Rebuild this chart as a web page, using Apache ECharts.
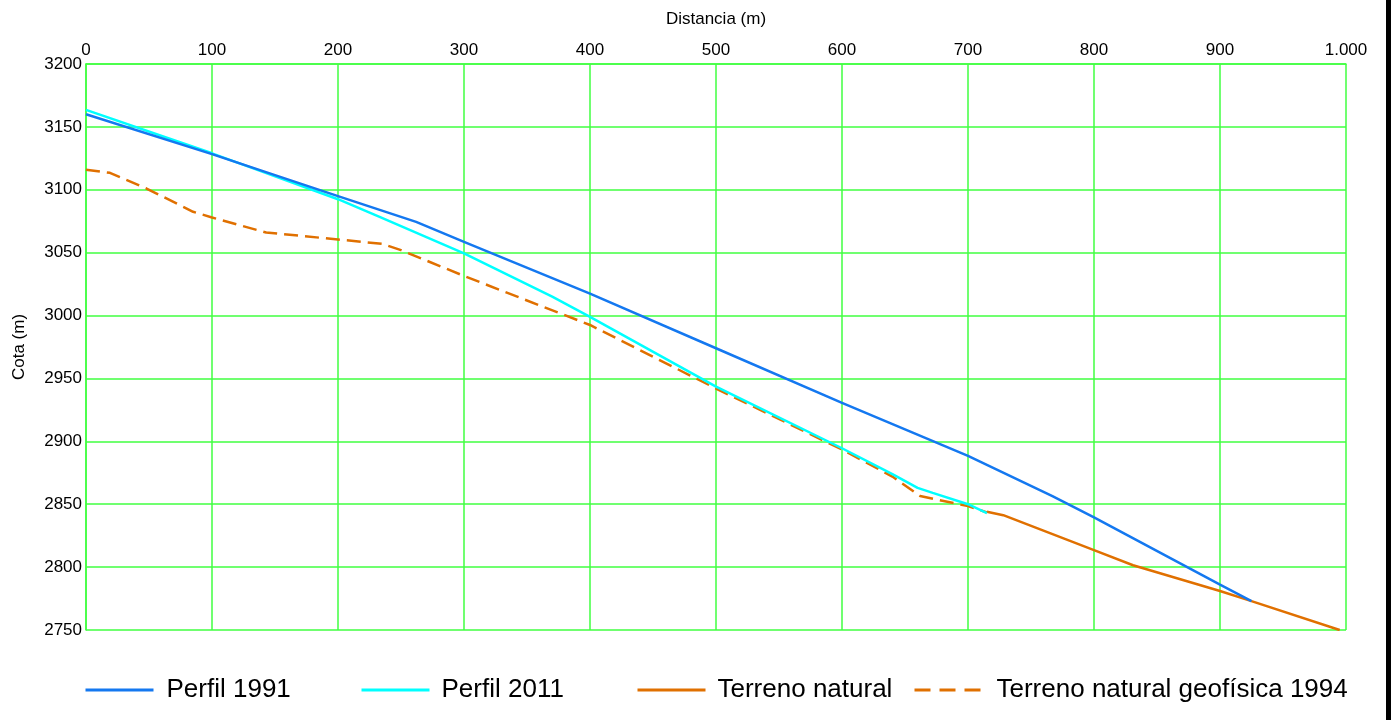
<!DOCTYPE html>
<html>
<head>
<meta charset="utf-8">
<script src="https://cdn.jsdelivr.net/npm/echarts@6/dist/echarts.min.js"></script>
<style>html,body{margin:0;padding:0;background:#fff;}#c{width:1391px;height:720px;}</style>
</head>
<body>
<div id="c"></div>
<script>
// Data: [distance (m), elevation (m)]
const perfil1991 = [[0,3160],[100,3128.3],[200,3095],[262,3074.5],[300,3058.6],[400,3017.5],[500,2974],[600,2930.5],[700,2888.5],[767,2856.5],[800,2839.5],[900,2786],[925,2773]];
const perfil2011 = [[0,3163.5],[100,3129],[130,3118],[200,3092.5],[233,3078.5],[300,3049.5],[370,3015],[400,2999],[500,2943.5],[600,2894.5],[640,2874],[660,2863],[672,2859],[700,2850],[715,2843]];
const terrenoNatural = [[715,2844],[728,2841.3],[800,2813.5],[831,2801.5],[900,2781],[925,2773],[995,2750]];
const terrenoGeofisica = [[0,3116],[19,3113.5],[48,3101],[85,3082.5],[100,3078],[143,3066],[200,3060.5],[235,3057],[250,3052],[300,3031.5],[400,2992.5],[500,2942],[600,2893.5],[640,2872],[662,2856.5],[700,2848.5],[715,2843.5]];
const seriesNames = ['Perfil 1991','Perfil 2011','Terreno natural','Terreno natural geofísica 1994'];

const FONT = 'Liberation Sans, Arial, sans-serif';
const GREEN = '#40ff40';
const BLUE = '#1478f0';
const CYAN = '#00ffff';
const ORANGE = '#e07000';

const chart = echarts.init(document.getElementById('c'));
function legendAt(name, left, pad, dash){
  return {
    data:[name], left:left, top:677, padding:0, orient:'horizontal',
    itemWidth:68, itemHeight:26,
    itemStyle:{opacity:0},
    lineStyle:{width:3, type: dash || 'solid'},
    textStyle:{fontFamily:FONT, fontSize:26, color:'#000', padding:[0,0,0,pad]}
  };
}
chart.setOption({
  animation:false,
  backgroundColor:'#fff',
  grid:{left:86, right:45, top:64, bottom:90, containLabel:false},
  xAxis:{
    type:'value', position:'top', min:0, max:1000, interval:100,
    name:'Distancia (m)', nameLocation:'middle', nameGap:36,
    nameTextStyle:{fontFamily:FONT, fontSize:17, color:'#000'},
    axisLine:{show:true, lineStyle:{color:GREEN, width:1.5}},
    axisTick:{show:false},
    axisLabel:{fontFamily:FONT, fontSize:17, color:'#000', margin:5,
      formatter:function(v){ return v>=1000 ? String(v).replace(/\B(?=(\d{3})+(?!\d))/g,'.') : String(v); }},
    splitLine:{show:true, lineStyle:{color:GREEN, width:1.5}}
  },
  yAxis:{
    type:'value', min:2750, max:3200, interval:50,
    name:'Cota (m)', nameLocation:'middle', nameGap:58, nameRotate:90,
    nameTextStyle:{fontFamily:FONT, fontSize:17, color:'#000'},
    axisLine:{show:true, lineStyle:{color:GREEN, width:1.5}},
    axisTick:{show:false},
    axisLabel:{fontFamily:FONT, fontSize:17, color:'#000', margin:4,
      formatter:function(v){ return String(v); }},
    splitLine:{show:true, lineStyle:{color:GREEN, width:1.5}}
  },
  legend:[
    legendAt(seriesNames[0], 84, 8),
    legendAt(seriesNames[1], 360, 7),
    legendAt(seriesNames[2], 636, 7),
    legendAt(seriesNames[3], 913, 9, [16,9])
  ],
  series:[
    {name:seriesNames[3], type:'line', data:terrenoGeofisica, symbol:'none', z:2,
      lineStyle:{color:ORANGE, width:2.5, type:[14,7]}, itemStyle:{color:ORANGE}},
    {name:seriesNames[2], type:'line', data:terrenoNatural, symbol:'none', z:3,
      lineStyle:{color:ORANGE, width:2.5}, itemStyle:{color:ORANGE}},
    {name:seriesNames[1], type:'line', data:perfil2011, symbol:'none', z:4,
      lineStyle:{color:CYAN, width:2.5}, itemStyle:{color:CYAN}},
    {name:seriesNames[0], type:'line', data:perfil1991, symbol:'none', z:5,
      lineStyle:{color:BLUE, width:2.5}, itemStyle:{color:BLUE}}
  ],
  graphic:[{type:'rect', right:0, top:0, shape:{width:5, height:720}, style:{fill:'#000'}}]
});
</script>
</body>
</html>
